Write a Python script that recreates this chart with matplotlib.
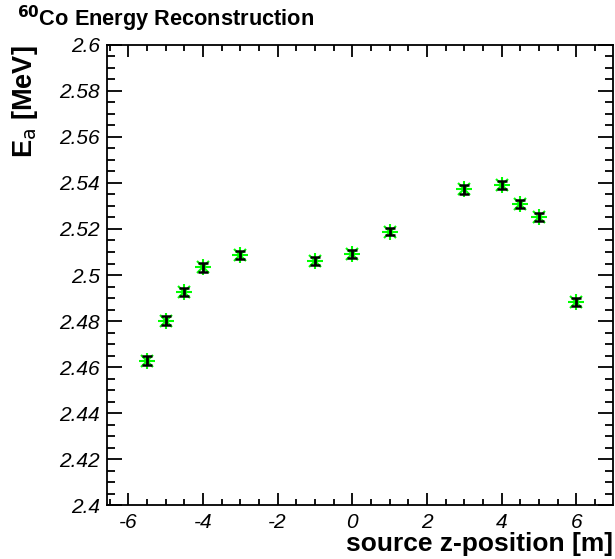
import matplotlib
matplotlib.use("Agg")
import matplotlib.pyplot as plt
from matplotlib.ticker import MultipleLocator
from matplotlib.font_manager import FontProperties, findfont

# source positions [m] and reconstructed energy [MeV]
z_pos = [-5.5, -5.0, -4.5, -4.0, -3.0, -1.0, 0.0, 1.0, 3.0, 4.0, 4.5, 5.0, 6.0]
energy = [2.4628, 2.4802, 2.4927, 2.5033, 2.5086, 2.5062, 2.5093,
          2.5189, 2.5372, 2.5392, 2.5310, 2.5251, 2.4882]
energy_err = [0.0018, 0.0018, 0.0018, 0.0018, 0.0017, 0.0017, 0.0017,
              0.0017, 0.0018, 0.0018, 0.0017, 0.0017, 0.0018]

x_ticks = [-6, -4, -2, 0, 2, 4, 6]
x_labels = ["-6", "-4", "-2", "0", "2", "4", "6"]
y_ticks = [2.4, 2.42, 2.44, 2.46, 2.48, 2.5, 2.52, 2.54, 2.56, 2.58, 2.6]
y_labels = ["2.4", "2.42", "2.44", "2.46", "2.48", "2.5", "2.52",
            "2.54", "2.56", "2.58", "2.6"]

plt.rcParams["font.family"] = ["Liberation Sans", "DejaVu Sans"]

# pick the first family that really has an italic face
tick_font = None
for fam in ["Liberation Sans", "Roboto", "Noto Sans", "Open Sans", "Lato", "DejaVu Sans"]:
    fp = FontProperties(family=fam, style="italic", size=15)
    try:
        path = findfont(fp, fallback_to_default=False)
    except Exception:
        continue
    if "italic" in path.lower() or "oblique" in path.lower():
        tick_font = fp
        break
if tick_font is None:
    tick_font = FontProperties(family="DejaVu Sans", style="oblique", size=15)

fig = plt.figure(figsize=(6.15, 5.59), dpi=100)
ax = fig.add_axes([0.1735, 0.0966, 0.8232, 0.8229])

# green asterisks (+ and x) with black error bars on top
ax.plot(z_pos, energy, linestyle="none", marker="+", markersize=11,
        markeredgecolor="#00ff00", markeredgewidth=1.5, zorder=2)
ax.plot(z_pos, energy, linestyle="none", marker="x", markersize=8,
        markeredgecolor="#00ff00", markeredgewidth=1.5, zorder=2)
ax.errorbar(z_pos, energy, yerr=energy_err, fmt="none", ecolor="black",
            elinewidth=2, capsize=3.5, capthick=1.8, zorder=3)

ax.set_xlim(-6.58, 6.98)
ax.set_ylim(2.4, 2.6)

ax.set_xticks(x_ticks, x_labels)
ax.set_yticks(y_ticks, y_labels)
for lab in ax.get_xticklabels() + ax.get_yticklabels():
    lab.set_fontproperties(tick_font)
ax.xaxis.set_minor_locator(MultipleLocator(0.5))
ax.yaxis.set_minor_locator(MultipleLocator(0.005))

ax.tick_params(axis="both", which="both", direction="in", top=True, right=True,
               width=1.3, color="black")
ax.tick_params(axis="x", which="major", length=8.5, pad=6)
ax.tick_params(axis="x", which="minor", length=4.5)
ax.tick_params(axis="y", which="major", length=11, pad=5)
ax.tick_params(axis="y", which="minor", length=6)

for spine in ax.spines.values():
    spine.set_linewidth(1.3)

ax.set_xlabel("source z-position [m]", fontsize=19, fontweight="bold",
              loc="right", labelpad=0)
ax.set_ylabel(r"E$_{\mathrm{a}}$ [MeV]", fontsize=19.5, fontweight="bold",
              loc="top", labelpad=14)

fig.text(0.028, 0.966, r"$^{\mathbf{60}}$Co Energy Reconstruction", fontsize=15.7,
         fontweight="bold", ha="left", va="center")

fig.savefig("out.png", dpi=100)
